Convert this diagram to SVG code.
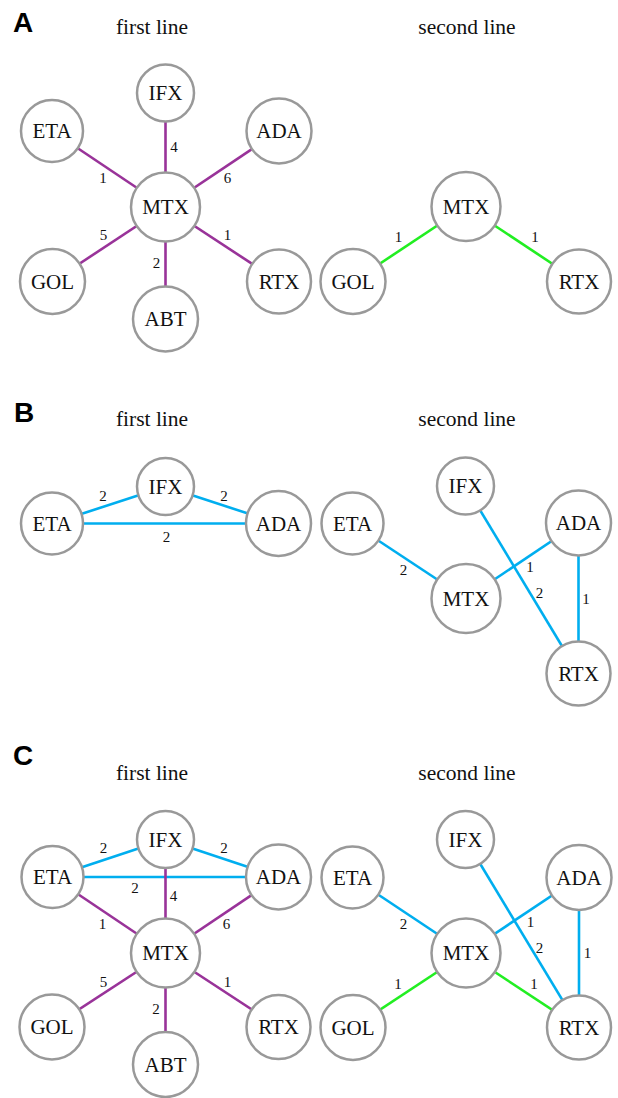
<svg xmlns="http://www.w3.org/2000/svg" width="618" height="1098" viewBox="0 0 618 1098">
<style>
.n{fill:#fff;stroke:#999;stroke-width:2.5}
.t{font-family:"Liberation Serif",serif;font-size:21px;text-anchor:middle;fill:#111}
.ttl{font-family:"Liberation Serif",serif;font-size:21.5px;text-anchor:middle;fill:#111}
.el{font-family:"Liberation Serif",serif;font-size:15px;text-anchor:middle;fill:#111}
.p{stroke:#993399;stroke-width:2.6;fill:none}
.b{stroke:#00aeef;stroke-width:2.6;fill:none}
.g{stroke:#22ee22;stroke-width:2.6;fill:none}
.L{font-family:"Liberation Sans",sans-serif;font-weight:bold;font-size:28px;fill:#000}
</style>
<rect width="618" height="1098" fill="#fff"/>
<text class="L" x="13" y="32">A</text>
<text class="L" x="14" y="422">B</text>
<text class="L" x="13" y="765">C</text>
<text class="ttl" x="152" y="34">first line</text>
<text class="ttl" x="467" y="34">second line</text>
<text class="ttl" x="152" y="426">first line</text>
<text class="ttl" x="467" y="426">second line</text>
<text class="ttl" x="152" y="780">first line</text>
<text class="ttl" x="467" y="780">second line</text>
<g id="connectors">
<!-- A left -->
<line class="p" x1="165.5" y1="207" x2="165.5" y2="93"/>
<line class="p" x1="165.5" y1="207" x2="52" y2="131"/>
<line class="p" x1="165.5" y1="207" x2="279" y2="131"/>
<line class="p" x1="165.5" y1="207" x2="52.5" y2="281.5"/>
<line class="p" x1="165.5" y1="207" x2="165.5" y2="319"/>
<line class="p" x1="165.5" y1="207" x2="279" y2="281.5"/>
<!-- A right -->
<line class="g" x1="466" y1="206.5" x2="353" y2="281.5"/>
<line class="g" x1="466" y1="206.5" x2="579" y2="281.5"/>
<!-- B left -->
<line class="b" x1="165.5" y1="486.5" x2="52" y2="523.5"/>
<line class="b" x1="165.5" y1="486.5" x2="278.5" y2="523.5"/>
<line class="b" x1="52" y1="523.5" x2="278.5" y2="523.5"/>
<!-- B right -->
<line class="b" x1="352.5" y1="523.5" x2="466" y2="598.5"/>
<line class="b" x1="466" y1="598.5" x2="578.5" y2="523"/>
<line class="b" x1="465.5" y1="486" x2="578.5" y2="673.5"/>
<line class="b" x1="578.5" y1="523" x2="578.5" y2="673.5"/>
<!-- C left -->
<line class="b" x1="165.5" y1="839.5" x2="52.5" y2="877"/>
<line class="b" x1="165.5" y1="839.5" x2="278.5" y2="877"/>
<line class="b" x1="52.5" y1="877" x2="278.5" y2="877"/>
<line class="p" x1="165.5" y1="953" x2="165.5" y2="839.5"/>
<line class="p" x1="165.5" y1="953" x2="52.5" y2="877"/>
<line class="p" x1="165.5" y1="953" x2="278.5" y2="877"/>
<line class="p" x1="165.5" y1="953" x2="52" y2="1027"/>
<line class="p" x1="165.5" y1="953" x2="165.5" y2="1064.5"/>
<line class="p" x1="165.5" y1="953" x2="278.5" y2="1027"/>
<!-- C right -->
<line class="b" x1="352.5" y1="877.5" x2="466" y2="953"/>
<line class="b" x1="466" y1="953" x2="579" y2="877.5"/>
<line class="b" x1="465.5" y1="839.5" x2="579" y2="1027.5"/>
<line class="b" x1="579" y1="877.5" x2="579" y2="1027.5"/>
<line class="g" x1="466" y1="953" x2="353" y2="1027.5"/>
<line class="g" x1="466" y1="953" x2="579" y2="1027.5"/>
<!-- edge labels -->
<text class="el" x="174" y="152">4</text>
<text class="el" x="103" y="183">1</text>
<text class="el" x="227.5" y="183">6</text>
<text class="el" x="103.5" y="240">5</text>
<text class="el" x="156.5" y="268">2</text>
<text class="el" x="227.5" y="240">1</text>
<text class="el" x="398.5" y="242">1</text>
<text class="el" x="535" y="242">1</text>
<text class="el" x="103" y="501">2</text>
<text class="el" x="224" y="501">2</text>
<text class="el" x="166.5" y="542">2</text>
<text class="el" x="403.5" y="575">2</text>
<text class="el" x="530" y="572">1</text>
<text class="el" x="539.5" y="598">2</text>
<text class="el" x="586" y="604">1</text>
<text class="el" x="103.5" y="853">2</text>
<text class="el" x="224" y="853">2</text>
<text class="el" x="135" y="893">2</text>
<text class="el" x="173.5" y="901">4</text>
<text class="el" x="102.5" y="929">1</text>
<text class="el" x="226.5" y="929">6</text>
<text class="el" x="103.5" y="987">5</text>
<text class="el" x="156" y="1014">2</text>
<text class="el" x="227.5" y="987">1</text>
<text class="el" x="403.5" y="929">2</text>
<text class="el" x="530.5" y="927">1</text>
<text class="el" x="539.5" y="953">2</text>
<text class="el" x="587.5" y="958">1</text>
<text class="el" x="398" y="989">1</text>
<text class="el" x="534" y="989">1</text>
</g>
<!-- A left nodes -->
<g id="A1_ETA"><circle class="n" cx="52" cy="131" r="31"/><text class="t" x="52" y="138">ETA</text></g>
<g id="A1_IFX"><circle class="n" cx="165.5" cy="93" r="28.5"/><text class="t" x="165.5" y="100">IFX</text></g>
<g id="A1_ADA"><circle class="n" cx="279" cy="131" r="32.5"/><text class="t" x="279" y="138">ADA</text></g>
<g id="A1_MTX"><circle class="n" cx="165.5" cy="207" r="34.5"/><text class="t" x="165.5" y="214">MTX</text></g>
<g id="A1_GOL"><circle class="n" cx="52.5" cy="281.5" r="32.5"/><text class="t" x="52.5" y="288.5">GOL</text></g>
<g id="A1_ABT"><circle class="n" cx="165.5" cy="319" r="32.5"/><text class="t" x="165.5" y="326">ABT</text></g>
<g id="A1_RTX"><circle class="n" cx="279" cy="281.5" r="32"/><text class="t" x="279" y="288.5">RTX</text></g>
<!-- A right nodes -->
<g id="A2_MTX"><circle class="n" cx="466" cy="206.5" r="34.5"/><text class="t" x="466" y="213.5">MTX</text></g>
<g id="A2_GOL"><circle class="n" cx="353" cy="281.5" r="32.5"/><text class="t" x="353" y="288.5">GOL</text></g>
<g id="A2_RTX"><circle class="n" cx="579" cy="281.5" r="32"/><text class="t" x="579" y="288.5">RTX</text></g>
<!-- B left nodes -->
<g id="B1_IFX"><circle class="n" cx="165.5" cy="486.5" r="28.5"/><text class="t" x="165.5" y="493.5">IFX</text></g>
<g id="B1_ETA"><circle class="n" cx="52" cy="523.5" r="31"/><text class="t" x="52" y="530.5">ETA</text></g>
<g id="B1_ADA"><circle class="n" cx="278.5" cy="523.5" r="32.5"/><text class="t" x="278.5" y="530.5">ADA</text></g>
<!-- B right nodes -->
<g id="B2_IFX"><circle class="n" cx="465.5" cy="486" r="28.5"/><text class="t" x="465.5" y="493">IFX</text></g>
<g id="B2_ETA"><circle class="n" cx="352.5" cy="523.5" r="31"/><text class="t" x="352.5" y="530.5">ETA</text></g>
<g id="B2_ADA"><circle class="n" cx="578.5" cy="523" r="32.5"/><text class="t" x="578.5" y="530">ADA</text></g>
<g id="B2_MTX"><circle class="n" cx="466" cy="598.5" r="34.5"/><text class="t" x="466" y="605.5">MTX</text></g>
<g id="B2_RTX"><circle class="n" cx="578.5" cy="673.5" r="32"/><text class="t" x="578.5" y="680.5">RTX</text></g>
<!-- C left nodes -->
<g id="C1_IFX"><circle class="n" cx="165.5" cy="839.5" r="28.5"/><text class="t" x="165.5" y="846.5">IFX</text></g>
<g id="C1_ETA"><circle class="n" cx="52.5" cy="877" r="31"/><text class="t" x="52.5" y="884">ETA</text></g>
<g id="C1_ADA"><circle class="n" cx="278.5" cy="877" r="32.5"/><text class="t" x="278.5" y="884">ADA</text></g>
<g id="C1_MTX"><circle class="n" cx="165.5" cy="953" r="34.5"/><text class="t" x="165.5" y="960">MTX</text></g>
<g id="C1_GOL"><circle class="n" cx="52" cy="1027" r="32.5"/><text class="t" x="52" y="1034">GOL</text></g>
<g id="C1_ABT"><circle class="n" cx="165.5" cy="1064.5" r="32.5"/><text class="t" x="165.5" y="1071.5">ABT</text></g>
<g id="C1_RTX"><circle class="n" cx="278.5" cy="1027" r="32"/><text class="t" x="278.5" y="1034">RTX</text></g>
<!-- C right nodes -->
<g id="C2_IFX"><circle class="n" cx="465.5" cy="839.5" r="28.5"/><text class="t" x="465.5" y="846.5">IFX</text></g>
<g id="C2_ETA"><circle class="n" cx="352.5" cy="877.5" r="31"/><text class="t" x="352.5" y="884.5">ETA</text></g>
<g id="C2_ADA"><circle class="n" cx="579" cy="877.5" r="32.5"/><text class="t" x="579" y="884.5">ADA</text></g>
<g id="C2_MTX"><circle class="n" cx="466" cy="953" r="34.5"/><text class="t" x="466" y="960">MTX</text></g>
<g id="C2_GOL"><circle class="n" cx="353" cy="1027.5" r="32.5"/><text class="t" x="353" y="1034.5">GOL</text></g>
<g id="C2_RTX"><circle class="n" cx="579" cy="1027.5" r="32"/><text class="t" x="579" y="1034.5">RTX</text></g>
</svg>
